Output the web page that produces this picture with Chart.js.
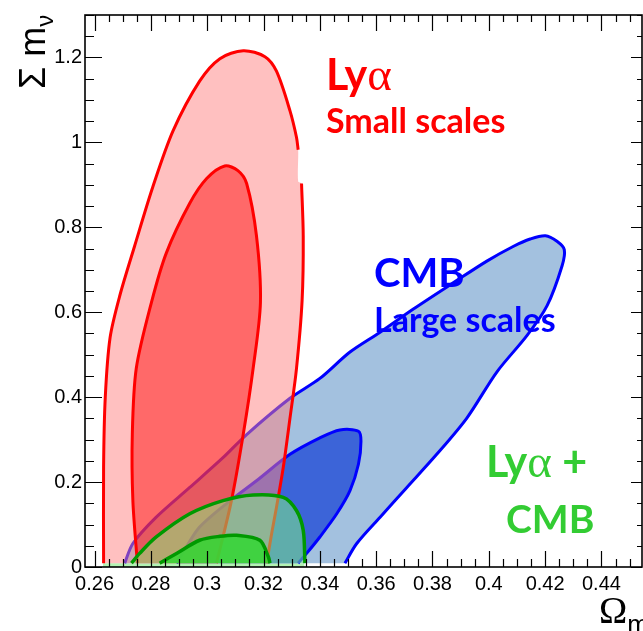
<!DOCTYPE html>
<html lang="en">
<head>
<meta charset="UTF-8">
<title>Sum of neutrino masses vs Omega_m</title>
<script src="https://cdn.jsdelivr.net/npm/chart.js"></script>
<style>
  html, body { margin: 0; padding: 0; background: #fff; }
  #wrap { width: 643px; height: 631px; }
</style>
</head>
<body>
<div id="wrap"><canvas id="contours" width="643" height="631"></canvas></div>
<script>
// axis ranges and labelled ticks
const xRange = [0.2566, 0.4544];
const yRange = [0, 1.3];
const xTicks = [0.26, 0.28, 0.30, 0.32, 0.34, 0.36, 0.38, 0.40, 0.42, 0.44];
const yTicks = [0, 0.2, 0.4, 0.6, 0.8, 1.0, 1.2];

// contours as [Omega_m, sum m_nu] points
const bottomStrip = [[0.2630, 0], [0.2630, 0.009], [0.3345, 0.009], [0.3345, 0]];

const cmbOuter = [
  [0.2707, 0.009], [0.2736, 0.0553], [0.2819, 0.1174], [0.2938, 0.1874], [0.3056, 0.2574],
  [0.3140, 0.3120], [0.3294, 0.3974], [0.3400, 0.4441], [0.3507, 0.5064], [0.3614, 0.5531],
  [0.3732, 0.6075], [0.3875, 0.6698], [0.3993, 0.7204], [0.4088, 0.7554], [0.4147, 0.7725],
  [0.4201, 0.7802], [0.4242, 0.7671], [0.4268, 0.7475], [0.4260, 0.7088], [0.4207, 0.6154],
  [0.4136, 0.5454], [0.4029, 0.4597], [0.3922, 0.3508], [0.3815, 0.2653], [0.3709, 0.1874],
  [0.3614, 0.1174], [0.3531, 0.0553], [0.3489, 0.009]
];

const cmbInner = [
  [0.2891, 0.009], [0.2926, 0.0474], [0.2973, 0.0940], [0.3073, 0.1517], [0.3175, 0.2030],
  [0.3294, 0.2653], [0.3400, 0.3041], [0.3471, 0.3228], [0.3537, 0.3197], [0.3546, 0.2964],
  [0.3537, 0.2420], [0.3507, 0.1797], [0.3460, 0.1253], [0.3400, 0.0707], [0.3353, 0.0320],
  [0.3323, 0.009]
];

const lyaOuter = [
  [0.2632, 0.009], [0.2632, 0.2357], [0.2638, 0.4000], [0.2655, 0.5400], [0.2690, 0.6400],
  [0.2742, 0.7554], [0.2807, 0.8954], [0.2879, 1.0275], [0.2973, 1.1442], [0.3045, 1.1972],
  [0.3128, 1.2159], [0.3205, 1.2019], [0.3246, 1.1676], [0.3294, 1.0742], [0.3317, 1.0121],
  [0.3323, 0.9825], [0.3323, 0.9078], [0.3335, 0.9032], [0.3341, 0.7795], [0.3337, 0.6278],
  [0.3317, 0.4674], [0.3294, 0.3508], [0.3270, 0.2341], [0.3246, 0.1407], [0.3229, 0.0793],
  [0.3211, 0.009]
];
// the outer Lya outline is open between these points (cut edge of the contour)
const lyaOuterCut = [15, 17];

const lyaInner = [
  [0.2752, 0.009], [0.2736, 0.1564], [0.2734, 0.3127], [0.2748, 0.4674], [0.2802, 0.6231],
  [0.2855, 0.7398], [0.2938, 0.8565], [0.2998, 0.9148], [0.3062, 0.9445], [0.3109, 0.9335],
  [0.3140, 0.9032], [0.3175, 0.7795], [0.3189, 0.6231], [0.3163, 0.4674], [0.3128, 0.3127],
  [0.3086, 0.1564], [0.3033, 0.009]
];

const comboOuter = [
  [0.2731, 0.009], [0.2760, 0.0320], [0.2819, 0.0707], [0.2938, 0.1253], [0.3056, 0.1564],
  [0.3163, 0.1697], [0.3270, 0.1641], [0.3317, 0.1330], [0.3341, 0.0863], [0.3347, 0.009]
];

const comboInner = [
  [0.2831, 0.009], [0.2891, 0.0320], [0.2973, 0.0630], [0.3045, 0.0723], [0.3104, 0.0747],
  [0.3187, 0.0630], [0.3217, 0.0240], [0.3223, 0.009]
];

function pts(list) {
  return list.map(p => ({ x: p[0], y: p[1] }));
}

function region(list, fillColor, lineColor, lineWidth, order) {
  return {
    data: pts(list),
    fill: 'shape',
    backgroundColor: fillColor,
    borderColor: lineColor,
    borderWidth: lineWidth,
    pointRadius: 0,
    tension: 0.3,
    order: order
  };
}

function outline(list, lineColor, lineWidth, order) {
  return {
    data: pts(list),
    fill: false,
    borderColor: lineColor,
    borderWidth: lineWidth,
    pointRadius: 0,
    tension: 0.3,
    order: order
  };
}

const datasets = [
  region(bottomStrip, 'rgba(160,240,160,0.8)', 'rgba(0,0,0,0)', 0, 20),
  region(cmbOuter, '#a3c1df', '#0000ff', 3, 19),
  region(cmbInner, '#3c64d8', '#0000ff', 3, 18),
  region(lyaOuter, 'rgba(255,129,129,0.5)', 'rgba(0,0,0,0)', 0, 17),
  outline(lyaOuter.slice(0, lyaOuterCut[0] + 1), '#ff0000', 3, 16),
  outline(lyaOuter.slice(lyaOuterCut[1]), '#ff0000', 3, 16),
  region(lyaInner, 'rgba(255,0,0,0.45)', '#ff0000', 3, 15),
  region(comboOuter, 'rgba(130,245,125,0.5)', '#009900', 3.5, 14),
  region(comboInner, 'rgba(50,215,50,0.85)', '#009900', 3.5, 13)
];
datasets[0].tension = 0;

// inward ticks, frame, axis titles and labels drawn over the plot
const frame = {
  id: 'frame',
  afterDatasetsDraw(chart) {
    const { ctx, chartArea: a, scales: { x, y } } = chart;
    ctx.save();
    ctx.strokeStyle = '#000';
    ctx.lineWidth = 1.2;
    ctx.beginPath();
    for (let k = Math.ceil(xRange[0] / 0.005); k * 0.005 <= xRange[1] + 1e-9; k++) {
      const px = Math.round(x.getPixelForValue(k * 0.005)) + 0.5;
      const major = k % 4 === 0;
      ctx.moveTo(px, a.bottom); ctx.lineTo(px, a.bottom - (major ? 16 : 8));
      ctx.moveTo(px, a.top); ctx.lineTo(px, a.top + (major ? 16 : 7));
    }
    for (let k = 0; k * 0.05 <= yRange[1] + 1e-9; k++) {
      const py = Math.round(y.getPixelForValue(k * 0.05)) + 0.5;
      const major = k % 4 === 0;
      ctx.moveTo(a.left, py); ctx.lineTo(a.left + (major ? 17 : 9), py);
      ctx.moveTo(a.right, py); ctx.lineTo(a.right - (major ? 11 : 5), py);
    }
    ctx.stroke();
    ctx.lineWidth = 1.6;
    ctx.strokeRect(a.left, a.top, a.right - a.left, a.bottom - a.top);
    ctx.restore();
  },
  afterDraw(chart) {
    const ctx = chart.ctx;
    const bold = s => 'bold ' + s + 'px Lato, "Open Sans", sans-serif';
    const greek = s => s + 'px "Liberation Serif", "DejaVu Serif", serif';
    const sans = s => s + 'px "Liberation Sans", Arial, sans-serif';
    function run(parts, x, yb, color) {
      ctx.fillStyle = color;
      let cx = x;
      for (const [text, font, dy] of parts) {
        ctx.font = font;
        ctx.fillText(text, cx, yb + (dy || 0));
        cx += ctx.measureText(text).width;
      }
    }
    ctx.save();
    ctx.textBaseline = 'alphabetic';
    ctx.textAlign = 'left';

    run([['Ly', bold(43)], ['\u03b1', greek(47)]], 326, 90, '#ff0000');
    run([['Small scales', bold(34)]], 326, 133, '#ff0000');
    run([['CMB', bold(40)]], 374, 287, '#0000ff');
    run([['Large scales', bold(34)]], 374, 332, '#0000ff');
    run([['Ly', bold(43)], ['\u03b1', greek(47)], [' +', bold(43)]], 486, 477, '#33cc33');
    run([['CMB', bold(39)]], 506, 533, '#33cc33');

    // x axis title
    run([['\u03a9', greek(38)], ['m', sans(26), 10]], 599, 623, '#000');

    // y axis title, rotated
    ctx.translate(45, 89);
    ctx.rotate(-Math.PI / 2);
    run([['\u03a3', sans(36)], [' m', sans(36)], ['\u03bd', sans(24), 8]], 0, 0, '#000');
    ctx.restore();
  }
};

const tickFont = { family: '"Liberation Sans", Arial, sans-serif', size: 20 };

new Chart(document.getElementById('contours'), {
  type: 'line',
  data: { datasets: datasets },
  options: {
    responsive: false,
    animation: false,
    layout: { padding: { top: 10, right: 1, left: 0, bottom: 0 } },
    plugins: { legend: { display: false }, tooltip: { enabled: false } },
    scales: {
      x: {
        type: 'linear',
        min: xRange[0],
        max: xRange[1],
        grid: { display: false, drawTicks: false },
        border: { display: false },
        afterBuildTicks: s => { s.ticks = xTicks.map(v => ({ value: v })); },
        afterFit: s => { s.height = 64; },
        ticks: {
          color: '#000', font: tickFont, padding: 5, maxRotation: 0, autoSkip: false,
          callback: v => String(+v.toFixed(2))
        }
      },
      y: {
        type: 'linear',
        min: yRange[0],
        max: yRange[1],
        grid: { display: false, drawTicks: false },
        border: { display: false },
        afterBuildTicks: s => { s.ticks = yTicks.map(v => ({ value: v })); },
        afterFit: s => { s.width = 85; },
        ticks: {
          color: '#000', font: tickFont, padding: 3, autoSkip: false,
          callback: v => String(+v.toFixed(1))
        }
      }
    }
  },
  plugins: [frame]
});
</script>
</body>
</html>
